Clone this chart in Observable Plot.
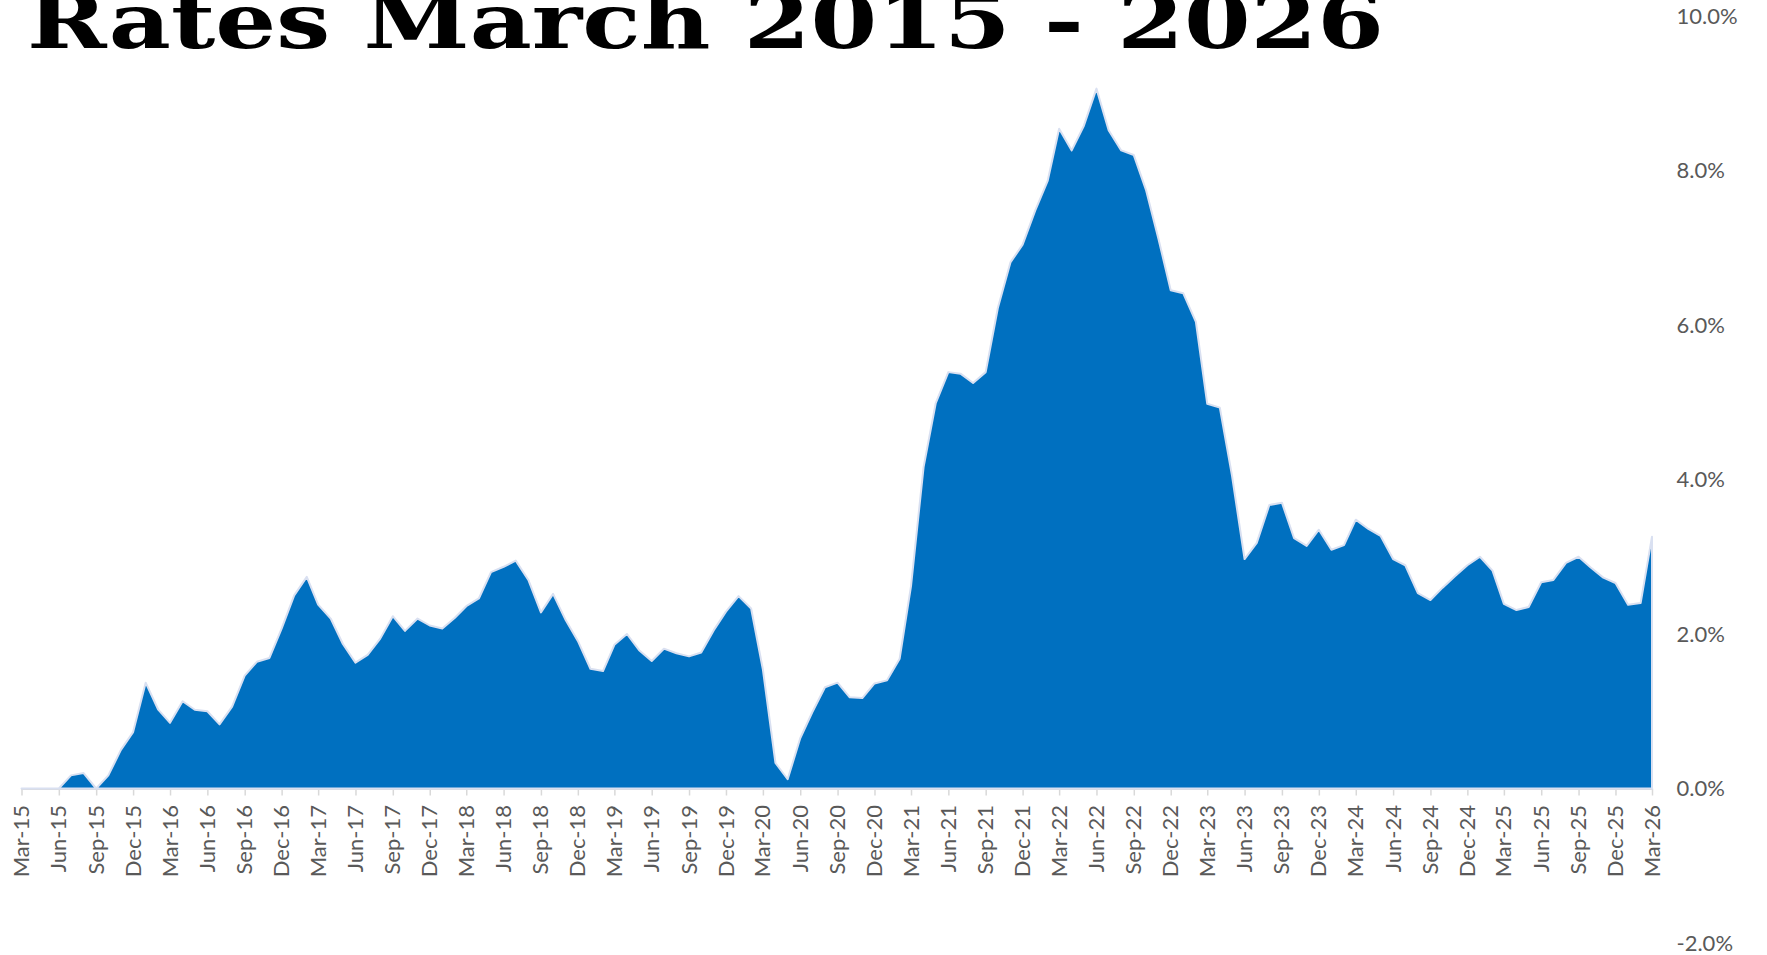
<!DOCTYPE html>
<html>
<head>
<meta charset="utf-8">
<script src="https://cdn.jsdelivr.net/npm/d3@7"></script>
<script src="https://cdn.jsdelivr.net/npm/@observablehq/plot@0.6"></script>
<style>
  html, body { margin: 0; padding: 0; background: #ffffff; }
  #wrap { position: relative; width: 1767px; height: 955px; overflow: hidden; background: #ffffff; }
  #titleSvg { position: absolute; left: 0; top: 0; overflow: visible; }
</style>
</head>
<body>
<div id="wrap">
  <div id="chart"></div>
  <svg id="titleSvg" width="1767" height="70"></svg>
</div>
<script>
// ---- Data (percent, year-over-year) ----
const titleText = "Rates March 2015 - 2026";
const firstMonth = "2015-03";
const lastMonth = "2026-03";

// Mar–Dec 2015 (first four months have no value)
const v2015 = [null, null, null, null, 0.17, 0.20, 0.00, 0.17, 0.50, 0.73];
const v2016 = [1.37, 1.02, 0.85, 1.13, 1.02, 1.00, 0.83, 1.06, 1.46, 1.64, 1.69, 2.07];
const v2017 = [2.50, 2.74, 2.38, 2.20, 1.87, 1.63, 1.73, 1.94, 2.23, 2.04, 2.20, 2.11];
const v2018 = [2.07, 2.21, 2.36, 2.46, 2.80, 2.87, 2.95, 2.70, 2.28, 2.52, 2.18, 1.91];
const v2019 = [1.55, 1.52, 1.86, 2.00, 1.79, 1.65, 1.81, 1.75, 1.71, 1.76, 2.05, 2.29];
const v2020 = [2.49, 2.33, 1.54, 0.33, 0.12, 0.65, 0.99, 1.31, 1.37, 1.18, 1.17, 1.36];
const v2021 = [1.40, 1.68, 2.62, 4.16, 4.99, 5.39, 5.37, 5.25, 5.39, 6.22, 6.81, 7.04];
const v2022 = [7.48, 7.87, 8.54, 8.26, 8.58, 9.06, 8.52, 8.26, 8.20, 7.75, 7.11, 6.45];
const v2023 = [6.41, 6.04, 4.98, 4.93, 4.05, 2.97, 3.18, 3.67, 3.70, 3.24, 3.14, 3.35];
const v2024 = [3.09, 3.15, 3.48, 3.36, 3.27, 2.97, 2.89, 2.53, 2.44, 2.60, 2.75, 2.89];
const v2025 = [3.00, 2.82, 2.39, 2.31, 2.35, 2.67, 2.70, 2.92, 3.00, 2.86, 2.73, 2.66];
// Jan–Mar 2026
const v2026 = [2.38, 2.40, 3.26];

const yTicks = [-2, 0, 2, 4, 6, 8, 10];
const xTickEveryMonths = 3;
const xTickFormat = "%b-%y";

// ---- Build table ----
const values = [].concat(v2015, v2016, v2017, v2018, v2019, v2020, v2021, v2022, v2023, v2024, v2025, v2026);
const parseMonth = d3.utcParse("%Y-%m");
const start = parseMonth(firstMonth);
const end = parseMonth(lastMonth);
const data = values.map((v, i) => ({date: d3.utcMonth.offset(start, i), value: v}));
// quarterly ticks starting at the first month (Mar, Jun, Sep, Dec)
const xTicks = d3.utcMonth.range(start, d3.utcMonth.offset(end, 1), xTickEveryMonths);
const fmt = d3.utcFormat(xTickFormat);

const plot = Plot.plot({
  width: 1767,
  height: 955,
  marginLeft: 21.5,
  marginRight: 115,
  marginTop: 16,
  marginBottom: 12,
  style: {fontFamily: "Lato, 'Noto Sans', sans-serif", fontSize: "22px", color: "#595959", background: "#ffffff"},
  x: {type: "utc", domain: [start, end], axis: null},
  y: {
    domain: [-2, 10],
    ticks: yTicks,
    tickFormat: d => d.toFixed(1) + "%",
    axis: "right",
    tickSize: 0,
    tickPadding: 24,
    label: null
  },
  marks: [
    Plot.ruleY([0], {stroke: "#d9d9d9", strokeWidth: 2}),
    Plot.ruleX(xTicks, {x: d => d, y1: 0, y2: 0, insetBottom: -7, stroke: "#d9d9d9", strokeWidth: 1.5}),
    Plot.areaY(data, {x: "date", y: "value", fill: "#0070C0", stroke: "#d9e0f1", strokeWidth: 2, strokeLinejoin: "round"}),
    Plot.text(xTicks, {
      x: d => d, y: 0, text: d => fmt(d),
      rotate: -90, textAnchor: "end", lineAnchor: "middle",
      dy: 16, fontSize: 22, fill: "#595959"
    })
  ]
});
document.getElementById("chart").appendChild(plot);

// ---- Title (overlapping the top of the chart, as in the reference) ----
const tsvg = d3.select("#titleSvg");
tsvg.append("text")
  .attr("x", 27)
  .attr("y", 48)
  .attr("font-family", "'DejaVu Serif', serif")
  .attr("font-weight", "bold")
  .attr("font-size", 76)
  .attr("fill", "#000000")
  .attr("textLength", 1357)
  .attr("lengthAdjust", "spacingAndGlyphs")
  .text(titleText);
</script>
</body>
</html>
